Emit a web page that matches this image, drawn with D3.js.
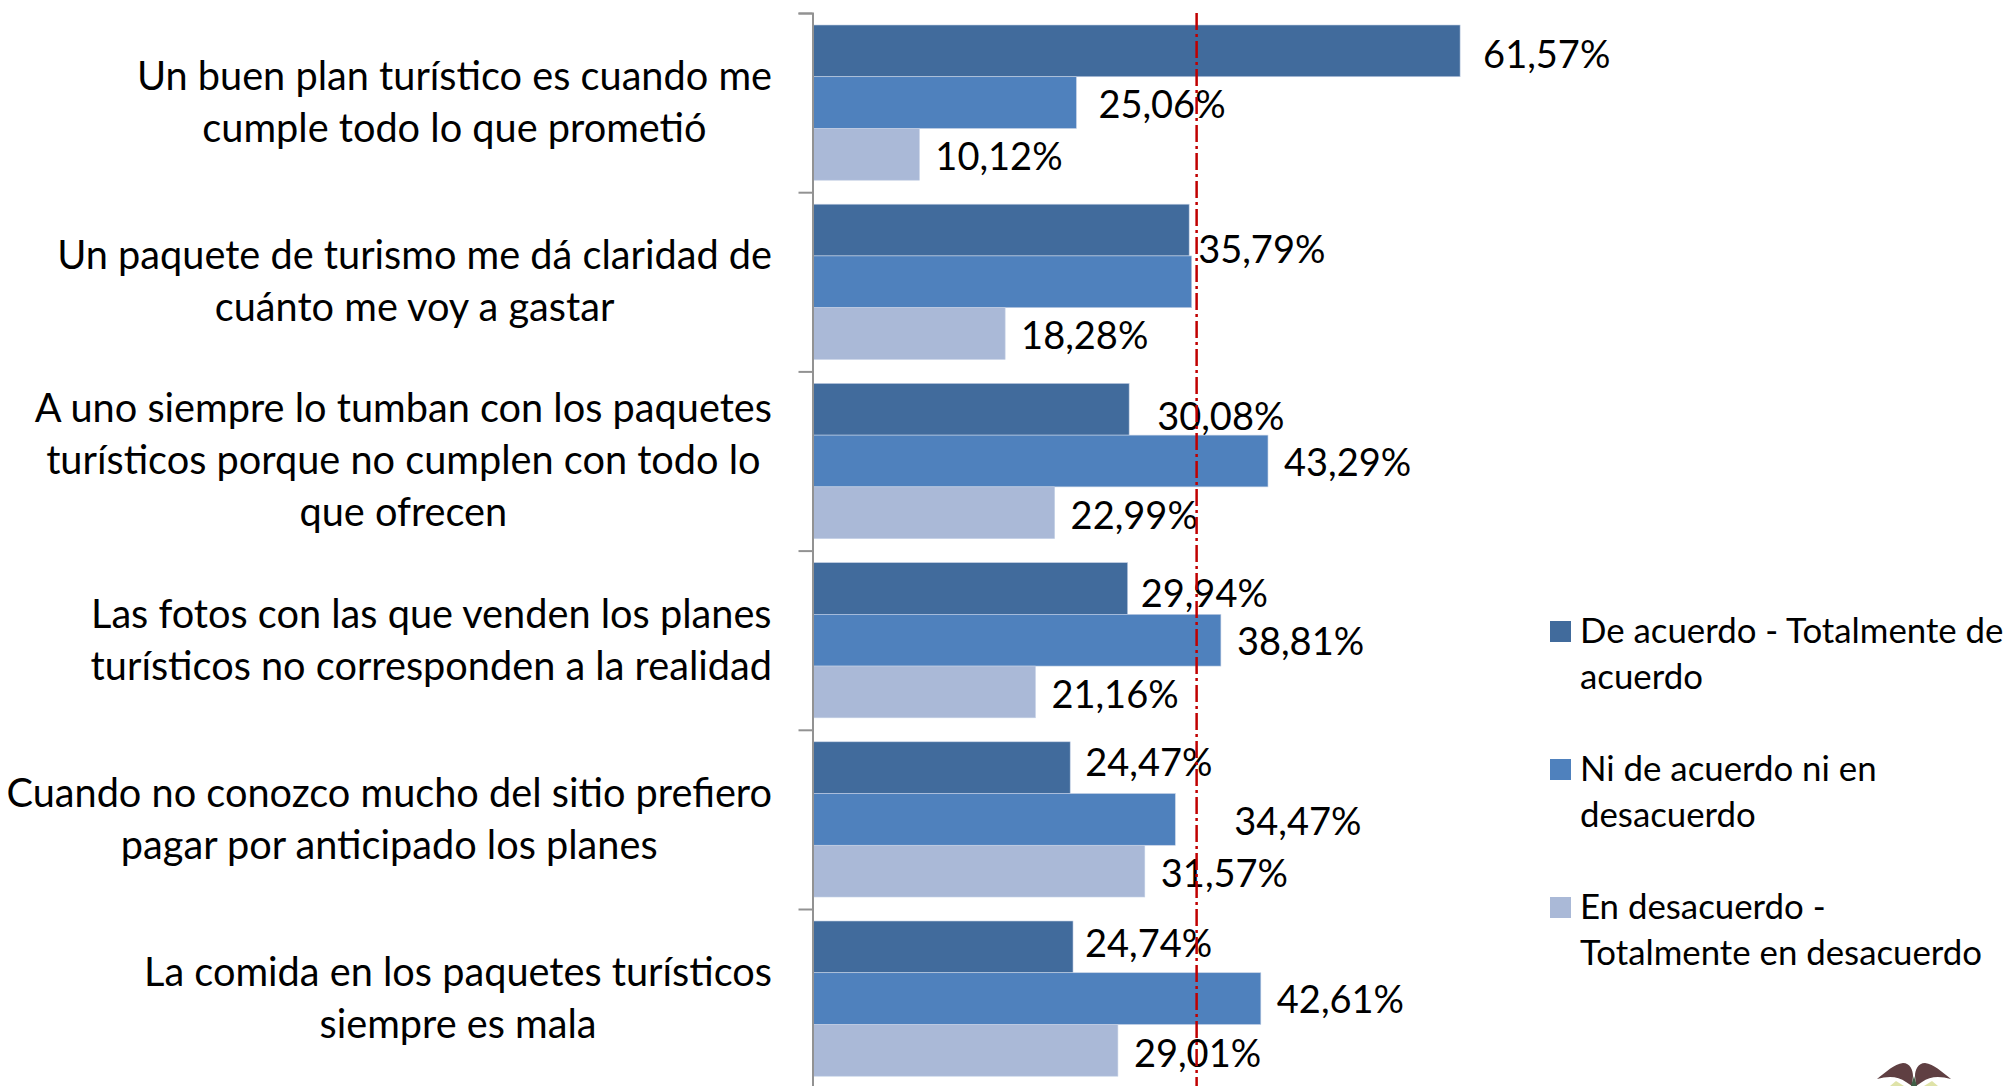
<!DOCTYPE html>
<html>
<head>
<meta charset="utf-8">
<script src="https://cdn.jsdelivr.net/npm/d3@7"></script>
<style>
	html, body { margin: 0; padding: 0; background: #fff; overflow: hidden; }
	svg { display: block; }
	text { font-family: Lato, "Open Sans", sans-serif; fill: #000; }
</style>
</head>
<body>
<div id="container"></div>
<script>
	const categories = [
		["Un buen plan turístico es cuando me", "cumple todo lo que prometió"],
		["Un paquete de turismo me dá claridad de", "cuánto me voy a gastar"],
		["A uno siempre lo tumban con los paquetes", "turísticos porque no cumplen con todo lo", "que ofrecen"],
		["Las fotos con las que venden los planes", "turísticos no corresponden a la realidad"],
		["Cuando no conozco mucho del sitio prefiero", "pagar por anticipado los planes"],
		["La comida en los paquetes turísticos", "siempre es mala"]
	];
	const series = [
		["De acuerdo - Totalmente de", "acuerdo"],
		["Ni de acuerdo ni en", "desacuerdo"],
		["En desacuerdo -", "Totalmente en desacuerdo"]
	];
	const deAcuerdo = [61.57, 35.79, 30.08, 29.94, 24.47, 24.74];
	const niDeAcuerdo = [25.06, 36.03, 43.29, 38.81, 34.47, 42.61];
	const enDesacuerdo = [10.12, 18.28, 22.99, 21.16, 31.57, 29.01];
	const referenceLine = 36.5;

	// the middle bar of the second group has no label in the picture
	const unlabelled = [[1, 1]];

	// labels were dragged by hand in the original, offsets from the default spot [dx, dy]
	const labelNudge = [
		[[6, 3], [5, 2], [-1, 2]],
		[[-8, 19], [0, 0], [-1, 2]],
		[[11, 7], [-1, 1], [-1, 3]],
		[[-4, 5], [-1, 1], [-1, 2]],
		[[-2, -5], [42, 2], [-1, 2]],
		[[-5, -4], [-1, 1], [-1, 3]]
	];

	const colors = ["#416b9c", "#4f81bd", "#aab9d7"];
	const values = [deAcuerdo, niDeAcuerdo, enDesacuerdo];

	const width = 2008, height = 1086;
	const axisX = 813, labelRight = 772;

	const svg = d3.select("#container").append("svg").attr("width", width).attr("height", height);

	const x = d3.scaleLinear().domain([0, 100]).range([axisX, axisX + 1051]);
	const edge = d3.scaleLinear().domain([0, categories.length]).range([13, 1088.2]);
	const y0 = d3.scaleBand().domain(d3.range(categories.length)).range(edge.range());
	const y1 = d3.scaleBand().domain(d3.range(series.length)).range([12, y0.bandwidth() - 12]);

	/************ BARS ************/
	const groups = svg.append("g").selectAll("g").data(categories).enter().append("g")
		.attr("transform", (d, i) => "translate(0," + y0(i) + ")");

	groups.selectAll("rect")
		.data((d, i) => values.map((v, s) => ({ s: s, c: i, v: v[i] })))
		.enter().append("rect")
		.attr("x", axisX)
		.attr("y", d => y1(d.s))
		.attr("width", d => x(d.v) - axisX)
		.attr("height", y1.bandwidth())
		.attr("fill", d => colors[d.s])
		.attr("stroke", "#c3d0e4")
		.attr("stroke-width", 0.6);

	/************ AXIS ************/
	const axis = d3.axisLeft(edge).tickValues(d3.range(categories.length + 1)).tickSize(14).tickFormat("");
	const gAxis = svg.append("g").attr("transform", "translate(" + (axisX - 0.5) + ",0)").call(axis);
	gAxis.selectAll("line, path").attr("stroke", "#929292").attr("stroke-width", 2);

	/************ VALUE LABELS ************/
	const fNumber = v => v.toFixed(2).replace(".", ",") + "%";

	groups.selectAll("text.value")
		.data((d, i) => values.map((v, s) => ({ s: s, c: i, v: v[i] }))
			.filter(d => !unlabelled.some(u => u[0] === d.c && u[1] === d.s)))
		.enter().append("text")
		.attr("class", "value")
		.attr("x", d => x(d.v) + 17 + labelNudge[d.c][d.s][0])
		.attr("y", d => y1(d.s) + y1.bandwidth() / 2 + labelNudge[d.c][d.s][1])
		.attr("dy", "0.36em")
		.attr("font-size", 38)
		.text(d => fNumber(d.v));

	/************ CATEGORY LABELS ************/
	const lineGap = 52;
	groups.each(function(lines, i) {
		const g = d3.select(this);
		const first = (y0.bandwidth() - (lines.length - 1) * lineGap) / 2;
		const t = g.selectAll("text.cat").data(lines).enter().append("text")
			.attr("class", "cat")
			.attr("font-size", 39.7)
			.attr("text-anchor", "middle")
			.attr("y", (d, j) => first + j * lineGap)
			.attr("dy", "0.34em")
			.text(d => d);
		// block is centred on itself with the longest line touching the right edge
		const longest = d3.max(t.nodes(), n => n.getComputedTextLength());
		t.attr("x", labelRight - longest / 2);
	});

	/************ REFERENCE LINE ************/
	svg.append("line")
		.attr("x1", x(referenceLine)).attr("x2", x(referenceLine))
		.attr("y1", 13).attr("y2", height)
		.attr("stroke", "#c00000")
		.attr("stroke-width", 2.5)
		.attr("stroke-dasharray", "17 4 3 4");

	/************ LEGEND ************/
	const legendY = d3.scalePoint().domain(d3.range(series.length)).range([642, 918]);
	const legend = svg.append("g").selectAll("g").data(series).enter().append("g")
		.attr("transform", (d, i) => "translate(1550," + legendY(i) + ")");

	legend.append("rect").attr("y", -21).attr("width", 21).attr("height", 21).attr("fill", (d, i) => colors[i]);
	legend.selectAll("text").data(d => d).enter().append("text")
		.attr("x", 30)
		.attr("y", (d, j) => j * 46 + 1)
		.attr("font-size", 34.8)
		.text(d => d);

	/************ LOGO, cut by the bottom edge ************/
	const logo = svg.append("g").attr("transform", "translate(1914,1086)");
	const wing = "M-37,-7 C-28,-14 -20,-22 -11,-23 C-4,-23 -1,-16 -1,-10 L-2,0 L-8,-4 C-16,-10 -26,-10 -37,-7 Z";
	logo.append("path").attr("d", wing).attr("fill", "#5f3f42");
	logo.append("path").attr("d", wing).attr("fill", "#5f3f42").attr("transform", "scale(-1,1)");
	logo.append("path").attr("d", "M-24,0 L-18,-5 L-10,0 Z M24,0 L18,-5 L10,0 Z").attr("fill", "#dfe3a8");
	logo.append("path").attr("d", "M-3,0 L0,-10 L3,0 Z").attr("fill", "#3f5f45");
</script>
</body>
</html>
